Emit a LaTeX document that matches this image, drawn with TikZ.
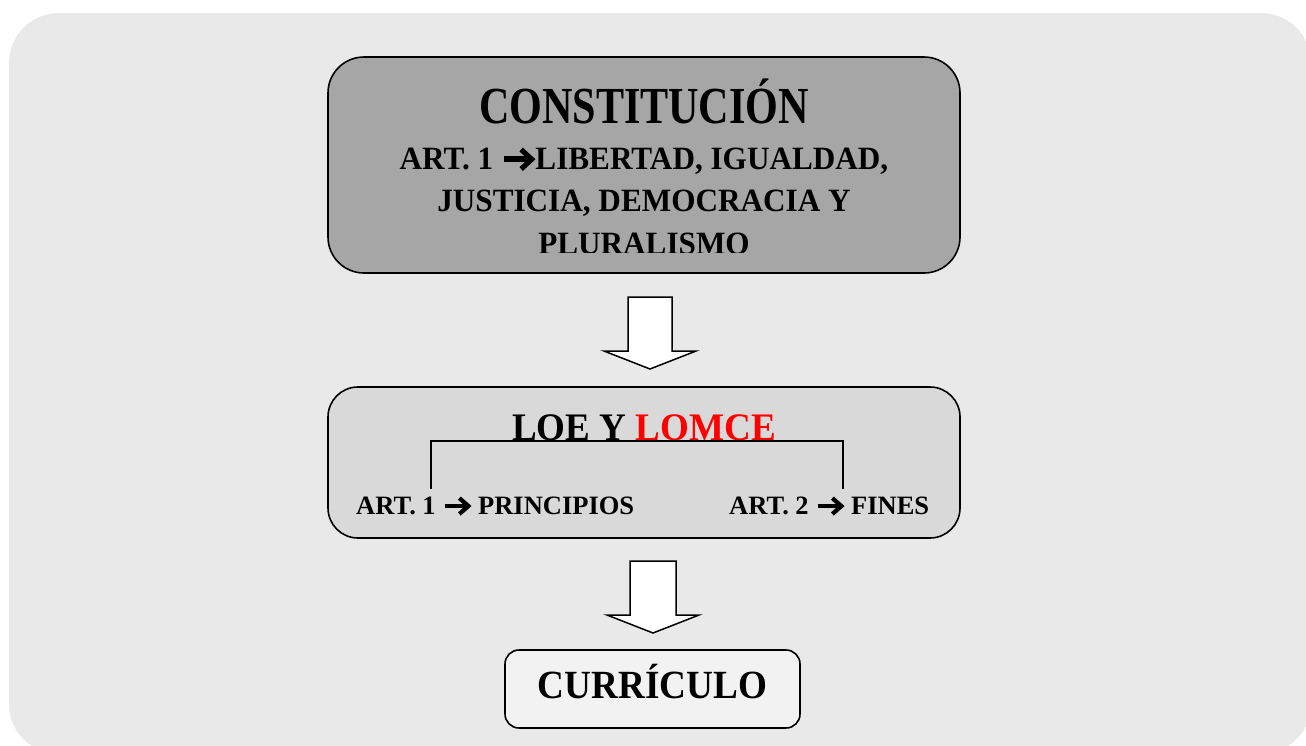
\documentclass[tikz,border=0pt]{standalone}
\usepackage{fontspec}
\usepackage{graphicx}
\setmainfont{Liberation Serif}
\definecolor{bgc}{HTML}{E9E9E9}
\definecolor{boxonec}{HTML}{A6A6A6}
\definecolor{boxtwoc}{HTML}{D9D9D9}
\definecolor{boxthreec}{HTML}{F2F2F2}
\definecolor{redc}{HTML}{FF0000}
\newcommand\rarr{\tikz[baseline=0pt,x=1em,y=1em]{\useasboundingbox (0,0) rectangle (1.1,0.6);
  \draw[line width=0.17em,line cap=butt] (0.08,0.3) -- (0.95,0.3);
  \draw[line width=0.16em,line join=miter,miter limit=10] (0.64,0.6) -- (0.98,0.3) -- (0.64,0.0);}}
\newcommand\sq[3]{\fontsize{#1}{#1}\selectfont\bfseries\scalebox{#2}[1]{#3}}
\begin{document}
\begin{tikzpicture}[x=1pt,y=-1pt,
  panel/.style={draw=black,line width=1.6pt,inner sep=0pt},
  txt/.style={inner sep=0pt,anchor=base},
  blockarrow/.style={draw=black,fill=white,line width=1.5pt,line join=miter},
  bracket/.style={draw=black,line width=1.3pt}]
\useasboundingbox (0,0) rectangle (1306,745);
\begin{scope}
  \clip (0,0) rectangle (1306,745);
  \fill[bgc, rounded corners=50pt] (9,13) rectangle (1311,754);
\end{scope}
% box 1
\node[panel, fill=boxonec, minimum width=632pt, minimum height=216pt, rounded corners=36pt] (constit) at (644,165) {};
\node[txt] (ttl) at (644,123) {\sq{52}{0.81}{CONSTITUCIÓN}};
\begin{scope}
  \clip (330,60) rectangle (958,252.5);
  \node[txt] (lineb) at (644,169) {\sq{32.5}{0.96}{ART. 1 \rarr LIBERTAD, IGUALDAD,}};
  \node[txt] (linec) at (644,211) {\sq{32.5}{0.96}{JUSTICIA, DEMOCRACIA Y}};
  \node[txt] (lined) at (644,254.5) {\sq{32.5}{0.96}{PLURALISMO}};
\end{scope}
% arrow 1
\draw[blockarrow] (628,297) -- (672,297) -- (672,351) -- (696,351) -- (650,369) -- (604,351) -- (628,351) -- cycle;
% box 2
\node[panel, fill=boxtwoc, minimum width=632pt, minimum height=151pt, rounded corners=30pt] (leyes) at (644,462.5) {};
\node[txt] (loe) at (644,440) {\sq{39}{0.95}{LOE Y \textcolor{redc}{LOMCE}}};
\node[txt, anchor=base west] (artone) at (356,514) {\sq{26.5}{1}{ART. 1 \rarr\ PRINCIPIOS}};
\node[txt, anchor=base west] (arttwo) at (729,514) {\sq{26.5}{1}{ART. 2 \rarr\ FINES}};
\coordinate (bl) at (431,489);
\coordinate (tl) at (431,441);
\coordinate (tr) at (843,441);
\coordinate (br) at (843,489);
\draw[bracket] (bl) -- (tl) -- (tr) -- (br);
% arrow 2
\draw[blockarrow] (630,561) -- (676,561) -- (676,615) -- (699,615) -- (653,633) -- (607,615) -- (630,615) -- cycle;
% box 3
\node[panel, fill=boxthreec, minimum width=295pt, minimum height=78pt, rounded corners=14pt] (curric) at (652.5,689) {};
\node[txt] (curtxt) at (652.5,698.5) {\sq{40}{0.93}{CURRÍCULO}};
\end{tikzpicture}
\end{document}
